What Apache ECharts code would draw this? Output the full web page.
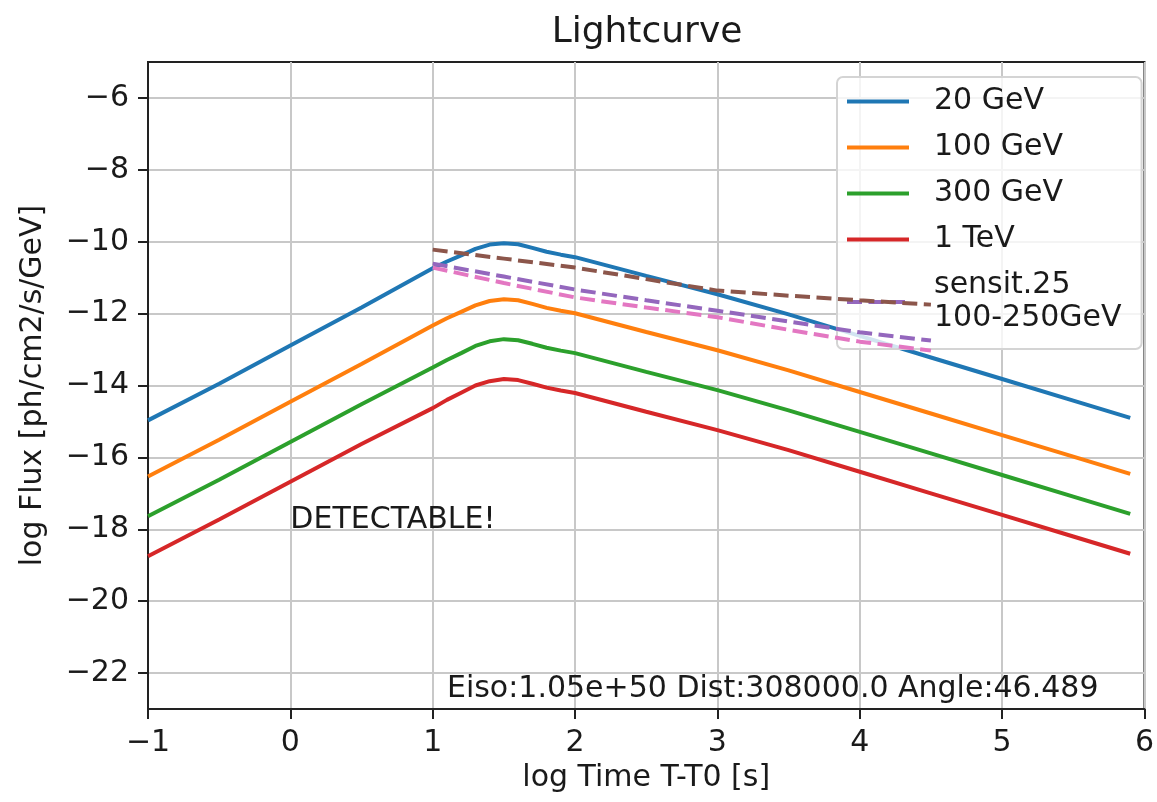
<!DOCTYPE html>
<html>
<head>
<meta charset="utf-8">
<title>Lightcurve</title>
<script src="https://cdn.jsdelivr.net/npm/echarts@6/dist/echarts.min.js"></script>
<style>
    html, body { margin: 0; padding: 0; background: #fff; }
    #chartRoot { width: 1157px; height: 802px; }
</style>
</head>
<body>
<div id="chartRoot"></div>
<script>
// log time grid (x) shared by the four energy curves
const timeGrid = [-1, -0.5, 0, 0.5, 1, 1.1, 1.2, 1.3, 1.4, 1.5, 1.6, 1.7, 1.8, 1.9, 2, 2.5, 3, 3.5, 4, 4.5, 5, 5.5, 5.9];

const flux20GeV  = [-14.97, -13.95, -12.89, -11.83, -10.74, -10.55, -10.38, -10.2, -10.08, -10.04, -10.07, -10.17, -10.28, -10.36, -10.43, -10.95, -11.46, -12.02, -12.62, -13.22, -13.82, -14.42, -14.9];
const flux100GeV = [-16.53, -15.51, -14.45, -13.4, -12.33, -12.13, -11.95, -11.77, -11.65, -11.6, -11.63, -11.73, -11.84, -11.92, -11.99, -12.51, -13.02, -13.58, -14.18, -14.78, -15.38, -15.98, -16.46];
const flux300GeV = [-17.64, -16.62, -15.57, -14.52, -13.5, -13.29, -13.1, -12.9, -12.77, -12.71, -12.74, -12.84, -12.95, -13.03, -13.1, -13.62, -14.13, -14.69, -15.29, -15.89, -16.49, -17.09, -17.57];
const flux1TeV   = [-18.75, -17.73, -16.68, -15.63, -14.63, -14.4, -14.2, -14.0, -13.88, -13.82, -13.85, -13.95, -14.06, -14.14, -14.21, -14.73, -15.24, -15.8, -16.4, -17.0, -17.6, -18.2, -18.68];

// sensitivity curves (dashed)
const sensitTime   = [1, 1.5, 2, 2.5, 3, 3.5, 4, 4.5];
const sensitBrown  = [-10.22, -10.47, -10.72, -11.04, -11.36, -11.5, -11.63, -11.75];
const sensitPurple = [-10.61, -10.97, -11.33, -11.63, -11.92, -12.22, -12.52, -12.75];
const sensitPink   = [-10.72, -11.15, -11.55, -11.83, -12.1, -12.45, -12.78, -13.03];

const yTicks = [-22, -20, -18, -16, -14, -12, -10, -8, -6];

const notes = [
    [0, -18, "DETECTABLE!"],
    [1.1, -22.7, "Eiso:1.05e+50 Dist:308000.0 Angle:46.489"]
];

const FONT = "DejaVu Sans";
const TXT = "#1a1a1a";
const FS = 30;

let zip = (xs, ys) => xs.map((x, i) => [x, ys[i]]);
let minus = v => (v < 0 ? "\u2212" + Math.abs(v) : String(v));

let solid = (name, color, ys) => ({
    type: "line",
    name,
    data: zip(timeGrid, ys),
    showSymbol: false,
    symbol: "none",
    lineStyle: { color, width: 4 },
    itemStyle: { color },
    z: 3
});

let dashed = (name, color, ys) => ({
    type: "line",
    name,
    data: zip(sensitTime, ys),
    showSymbol: false,
    symbol: "none",
    lineStyle: { color, width: 4, type: [15, 6.5] },
    itemStyle: { color },
    z: 4
});

const myChart = echarts.init(document.querySelector("#chartRoot"), null, { renderer: "canvas" });

const option = {
    animation: false,
    backgroundColor: "#fff",
    textStyle: { fontFamily: FONT },
    graphic: [{
        type: "text",
        x: 647,
        y: 15,
        style: {
            text: "Lightcurve",
            font: "36px " + FONT,
            fill: TXT,
            textAlign: "center",
            textVerticalAlign: "top"
        }
    }],
    grid: {
        left: 148,
        right: 10,
        top: 62,
        bottom: 93,
        show: true,
        borderColor: "#222",
        borderWidth: 2,
        containLabel: false
    },
    legend: {
        data: ["20 GeV", "100 GeV", "300 GeV", "1 TeV", "sensit.25\n100-250GeV"],
        orient: "vertical",
        left: 837,
        top: 77,
        padding: [8, 20, 14, 8],
        itemGap: 13,
        itemWidth: 62,
        itemHeight: 14,
        // line handle only, hide the marker dot
        itemStyle: { color: "rgba(0,0,0,0)", borderWidth: 0 },
        lineStyle: { width: 4 },
        backgroundColor: "rgba(255,255,255,0.8)",
        borderColor: "#d4d4d4",
        borderWidth: 2,
        borderRadius: 6,
        textStyle: {
            fontFamily: FONT,
            fontSize: FS,
            lineHeight: 33,
            color: TXT,
            padding: [0, 0, 0, 20]
        }
    },
    xAxis: {
        type: "value",
        min: -1,
        max: 6,
        interval: 1,
        name: "log Time T-T0 [s]",
        nameLocation: "middle",
        nameGap: 51,
        nameTextStyle: { fontFamily: FONT, fontSize: FS, color: TXT },
        axisLine: { show: true, onZero: false, lineStyle: { color: "#222", width: 2 } },
        axisTick: { show: true, length: 10, lineStyle: { color: "#222", width: 2 } },
        axisLabel: { margin: 19, fontFamily: FONT, fontSize: FS, color: TXT, formatter: minus },
        splitLine: { show: true, lineStyle: { color: "#c8c8c8", width: 2 } }
    },
    yAxis: {
        type: "value",
        min: -23,
        max: -5,
        name: "log Flux [ph/cm2/s/GeV]",
        nameLocation: "middle",
        nameGap: 100,
        nameRotate: 90,
        nameTextStyle: { fontFamily: FONT, fontSize: FS, color: TXT },
        axisLine: { show: true, onZero: false, lineStyle: { color: "#222", width: 2 } },
        axisTick: { show: true, length: 10, customValues: yTicks, lineStyle: { color: "#222", width: 2 } },
        axisLabel: { margin: 19, fontFamily: FONT, fontSize: FS, color: TXT, customValues: yTicks, formatter: minus },
        splitLine: { show: true, lineStyle: { color: "#c8c8c8", width: 2 } }
    },
    series: [
        solid("20 GeV", "#1f77b4", flux20GeV),
        solid("100 GeV", "#ff7f0e", flux100GeV),
        solid("300 GeV", "#2ca02c", flux300GeV),
        solid("1 TeV", "#d62728", flux1TeV),
        dashed("sensit brown", "#8c564b", sensitBrown),
        dashed("sensit.25\n100-250GeV", "#9467bd", sensitPurple),
        dashed("sensit pink", "#e377c2", sensitPink),
        {
            type: "scatter",
            name: "notes",
            data: notes,
            symbolSize: 0,
            silent: true,
            itemStyle: { opacity: 1 },
            label: {
                show: true,
                position: [0, 0],
                align: "left",
                verticalAlign: "bottom",
                offset: [0, 6],
                fontFamily: FONT,
                fontSize: FS,
                color: TXT,
                formatter: p => p.value[2]
            },
            z: 5
        }
    ]
};

myChart.setOption(option, true);
</script>
</body>
</html>
